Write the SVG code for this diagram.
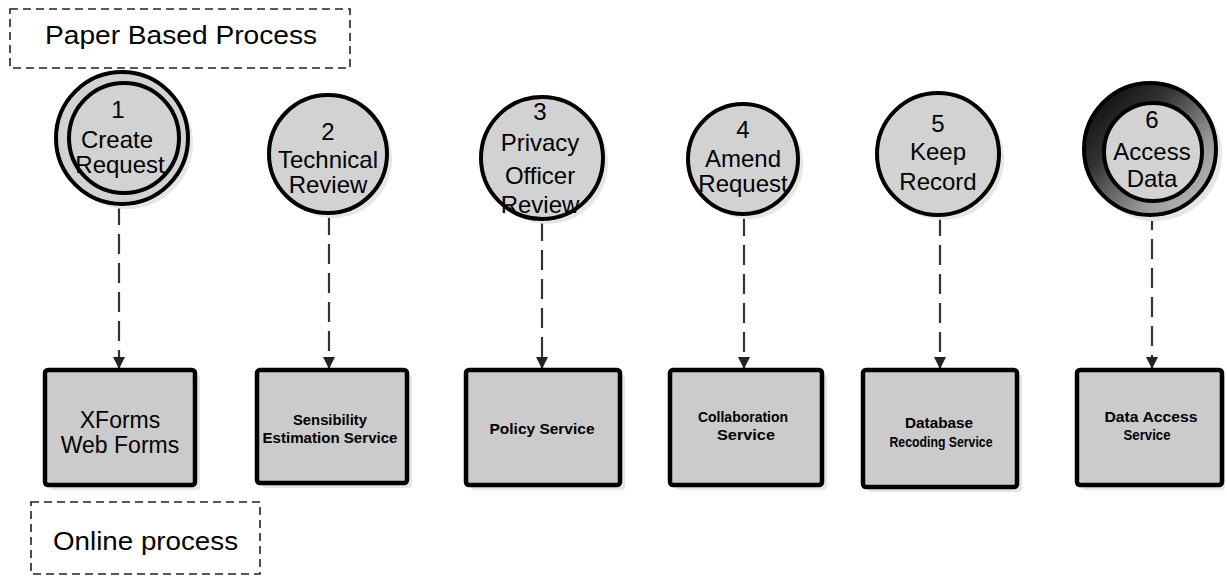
<svg xmlns="http://www.w3.org/2000/svg" width="1227" height="577" viewBox="0 0 1227 577">
  <style>
    .frame { fill: none; stroke: #222; stroke-width: 1.6; stroke-dasharray: 8 5; }
    .label { font-family: "Liberation Sans", Arial, sans-serif; fill: #000; }
    .big { font-size: 26px; }
    .step { font-size: 24px; text-anchor: middle; }
    .svc { font-size: 23px; text-anchor: middle; }
    .small { font-size: 15px; font-weight: bold; text-anchor: middle; }
    .proc { fill: #d2d2d2; stroke: #000; stroke-width: 4; }
    .box { fill: #cbcbcb; stroke: #000; stroke-width: 4.5; }
    .shadow { fill: #e6e6e6; }
    .link { fill: none; stroke: #333; stroke-width: 2.2; stroke-dasharray: 20 9; }
  </style>
  <defs>
    <marker id="arrow" viewBox="0 0 10 10" refX="10" refY="5" markerWidth="12" markerHeight="12" markerUnits="userSpaceOnUse" orient="auto">
      <path d="M0,0 L10,5 L0,10 z" fill="#222"/>
    </marker>
    <linearGradient id="ringGrad" x1="0" y1="0" x2="1" y2="1">
      <stop offset="0" stop-color="#000"/>
      <stop offset="0.35" stop-color="#333"/>
      <stop offset="0.7" stop-color="#9a9a9a"/>
      <stop offset="1" stop-color="#c4c4c4"/>
    </linearGradient>
  </defs>

  <rect width="1227" height="577" fill="#fff"/>

  <!-- process frames -->
  <g id="paper-frame">
    <rect class="frame" x="10" y="9" width="340" height="59"/>
    <text class="label big" x="45" y="44" textLength="272" lengthAdjust="spacingAndGlyphs">Paper Based Process</text>
  </g>
  <g id="online-frame">
    <rect class="frame" x="31" y="502" width="229" height="72"/>
    <text class="label big" x="53" y="550" textLength="185" lengthAdjust="spacingAndGlyphs">Online process</text>
  </g>

  <!-- connectors -->
  <g id="connectors">
    <line class="link" x1="119" y1="205" x2="119" y2="369" marker-end="url(#arrow)"/>
    <line class="link" x1="329" y1="215" x2="329" y2="369" marker-end="url(#arrow)"/>
    <line class="link" x1="542" y1="221" x2="542" y2="369" marker-end="url(#arrow)"/>
    <line class="link" x1="744" y1="216" x2="744" y2="369" marker-end="url(#arrow)"/>
    <line class="link" x1="940" y1="216" x2="940" y2="369" marker-end="url(#arrow)"/>
    <line class="link" x1="1152" y1="210" x2="1152" y2="369" marker-end="url(#arrow)"/>
  </g>

  <!-- process steps -->
  <g id="step1">
    <circle class="shadow" cx="127" cy="143" r="66"/>
    <circle class="proc" cx="122" cy="138" r="66"/>
    <circle class="proc" cx="124" cy="138" r="55"/>
    <text class="label step" x="118" y="118">1</text>
    <text class="label step" x="117" y="148">Create</text>
    <text class="label step" x="120" y="173">Request</text>
  </g>
  <g id="step2">
    <circle class="shadow" cx="333" cy="159" r="59"/>
    <circle class="proc" cx="328" cy="154" r="59"/>
    <text class="label step" x="328" y="140">2</text>
    <text class="label step" x="328" y="168">Technical</text>
    <text class="label step" x="328" y="193">Review</text>
  </g>
  <g id="step3">
    <circle class="shadow" cx="547" cy="163" r="61"/>
    <circle class="proc" cx="542" cy="158" r="61"/>
    <text class="label step" x="540" y="120">3</text>
    <text class="label step" x="540" y="151">Privacy</text>
    <text class="label step" x="540" y="184">Officer</text>
    <text class="label step" x="540" y="213">Review</text>
  </g>
  <g id="step4">
    <circle class="shadow" cx="748" cy="164" r="55"/>
    <circle class="proc" cx="743" cy="159" r="55"/>
    <text class="label step" x="743" y="138">4</text>
    <text class="label step" x="743" y="167">Amend</text>
    <text class="label step" x="743" y="192">Request</text>
  </g>
  <g id="step5">
    <circle class="shadow" cx="943" cy="159" r="61"/>
    <circle class="proc" cx="938" cy="154" r="61"/>
    <text class="label step" x="938" y="132">5</text>
    <text class="label step" x="938" y="160">Keep</text>
    <text class="label step" x="938" y="190">Record</text>
  </g>
  <g id="step6">
    <circle class="shadow" cx="1155" cy="154" r="67"/>
    <circle cx="1150" cy="149" r="66" fill="url(#ringGrad)" stroke="#000" stroke-width="4"/>
    <circle class="proc" cx="1153" cy="152" r="49"/>
    <text class="label step" x="1152" y="128">6</text>
    <text class="label step" x="1152" y="160">Access</text>
    <text class="label step" x="1152" y="187">Data</text>
  </g>

  <!-- services -->
  <g id="svc-xforms">
    <rect class="shadow" x="50" y="375" width="150" height="115" rx="3"/>
    <rect class="box" x="45" y="370" width="150" height="115" rx="3"/>
    <text class="label svc" x="120" y="428">XForms</text>
    <text class="label svc" x="120" y="453">Web Forms</text>
  </g>
  <g id="svc-sensibility">
    <rect class="shadow" x="262" y="375" width="150" height="113" rx="3"/>
    <rect class="box" x="257" y="370" width="150" height="113" rx="3"/>
    <text class="label small" x="330" y="425" textLength="74" lengthAdjust="spacingAndGlyphs">Sensibility</text>
    <text class="label small" x="330" y="443" textLength="135" lengthAdjust="spacingAndGlyphs">Estimation Service</text>
  </g>
  <g id="svc-policy">
    <rect class="shadow" x="471" y="375" width="154" height="115" rx="3"/>
    <rect class="box" x="466" y="370" width="154" height="115" rx="3"/>
    <text class="label small" x="542" y="434" textLength="105" lengthAdjust="spacingAndGlyphs">Policy Service</text>
  </g>
  <g id="svc-collaboration">
    <rect class="shadow" x="675" y="375" width="152" height="115" rx="3"/>
    <rect class="box" x="670" y="370" width="152" height="115" rx="3"/>
    <text class="label small" x="743" y="422" textLength="90" lengthAdjust="spacingAndGlyphs">Collaboration</text>
    <text class="label small" x="746" y="440" textLength="58" lengthAdjust="spacingAndGlyphs">Service</text>
  </g>
  <g id="svc-database">
    <rect class="shadow" x="868" y="375" width="154" height="117" rx="3"/>
    <rect class="box" x="863" y="370" width="154" height="117" rx="3"/>
    <text class="label small" x="939" y="428" textLength="68" lengthAdjust="spacingAndGlyphs">Database</text>
    <text class="label small" x="941" y="447" textLength="103" lengthAdjust="spacingAndGlyphs">Recoding Service</text>
  </g>
  <g id="svc-data-access">
    <rect class="shadow" x="1082" y="375" width="143" height="115" rx="3"/>
    <rect class="box" x="1077" y="370" width="145" height="115" rx="3"/>
    <text class="label small" x="1151" y="422" textLength="93" lengthAdjust="spacingAndGlyphs">Data Access</text>
    <text class="label small" x="1147" y="440" textLength="47" lengthAdjust="spacingAndGlyphs">Service</text>
  </g>
</svg>
